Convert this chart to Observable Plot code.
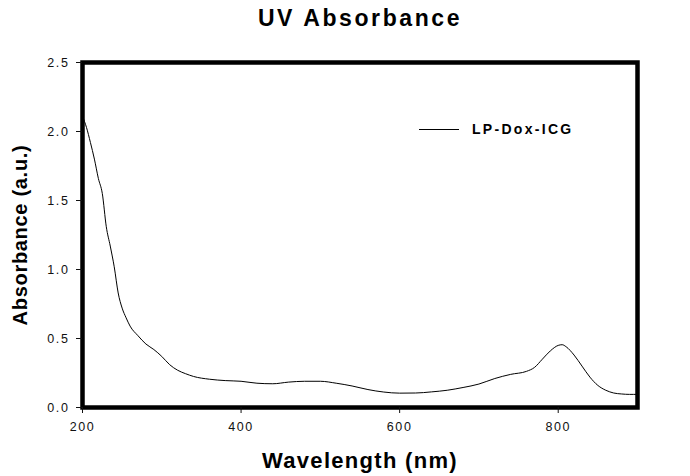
<!DOCTYPE html>
<html>
<head>
<meta charset="utf-8">
<script src="https://cdn.jsdelivr.net/npm/d3@7"></script>
<script src="https://cdn.jsdelivr.net/npm/@observablehq/plot@0.6"></script>
<style>
  html, body { margin: 0; padding: 0; background: #fff; }
  #wrap { position: relative; width: 690px; height: 476px; font-family: "Liberation Sans", Arial, sans-serif; }
  #title { box-sizing: border-box; height: 40px; padding-top: 7px; padding-left: 30px; text-align: center;
           font-weight: bold; font-size: 23px; line-height: 23px; letter-spacing: 2.6px; color: #000; }
  #legend { position: absolute; left: 419px; top: 118px; height: 22px; display: flex; align-items: center; }
  #legend .swatch { width: 40px; height: 0; border-top: 1px solid #000; margin-right: 13px; }
  #legend .lab { font-weight: bold; font-size: 14px; letter-spacing: 2.3px; color: #000; }
</style>
</head>
<body>
<div id="wrap">
  <div id="title">UV Absorbance</div>
  <div id="chart"></div>
  <div id="legend"><div class="swatch"></div><div class="lab">LP-Dox-ICG</div></div>
</div>
<script>
// Data
const wavelength = [200, 205, 210, 215, 220, 225, 230, 235, 240, 245, 250, 255, 260, 270, 280, 290, 300, 310, 320, 330, 340, 360, 380, 400, 420, 440, 460, 480, 500, 520, 540, 560, 580, 600, 620, 640, 660, 680, 700, 720, 740, 760, 770, 780, 790, 800, 805, 810, 820, 830, 840, 850, 860, 870, 880, 890, 900];
const absorbance = [2.11, 2.03, 1.92, 1.80, 1.66, 1.55, 1.31, 1.17, 1.02, 0.83, 0.72, 0.65, 0.59, 0.52, 0.46, 0.42, 0.37, 0.31, 0.27, 0.245, 0.225, 0.205, 0.195, 0.19, 0.176, 0.172, 0.184, 0.19, 0.19, 0.176, 0.156, 0.13, 0.112, 0.104, 0.105, 0.113, 0.125, 0.145, 0.17, 0.21, 0.24, 0.262, 0.29, 0.35, 0.41, 0.45, 0.455, 0.44, 0.38, 0.30, 0.22, 0.16, 0.125, 0.105, 0.098, 0.095, 0.095];
const xTicks = [200, 400, 600, 800];
const yTicks = [0, 0.5, 1.0, 1.5, 2.0, 2.5];
const seriesName = "LP-Dox-ICG";
const xLabel = "Wavelength (nm)";
const yLabel = "Absorbance (a.u.)";

const data = wavelength.map((w, i) => ({wavelength: w, absorbance: absorbance[i], series: seriesName}));

const chart = Plot.plot({
  width: 690,
  height: 436,
  marginTop: 22,
  marginBottom: 69,
  marginLeft: 82,
  marginRight: 53,
  style: {fontFamily: '"Liberation Sans", Arial, sans-serif', fontSize: "12px", color: "#111", background: "#fff"},
  x: {domain: [200, 900], label: null},
  y: {domain: [0, 2.5], label: null},
  marks: [
    Plot.line(data, {x: "wavelength", y: "absorbance", stroke: "#000", strokeWidth: 1, curve: "monotone-x"}),
    Plot.frame({stroke: "#000", strokeWidth: 4.5}),
    Plot.axisX({ticks: xTicks, tickSize: 6, tickPadding: 9, tickFormat: d3.format("d"), label: null, fontSize: 12.5}),
    Plot.axisY({ticks: yTicks, tickSize: 6, tickPadding: 7, tickFormat: d3.format(".1f"), label: null, fontSize: 12.5}),
    Plot.text([xLabel], {frameAnchor: "bottom", text: d => d, dy: 60, textAnchor: "middle", fontSize: 22, fontWeight: "bold", fill: "#000"}),
    Plot.text([yLabel], {frameAnchor: "left", text: d => d, rotate: -90, dx: -62, textAnchor: "middle", fontSize: 20, fontWeight: "bold", fill: "#000"})
  ]
});
chart.querySelectorAll("text").forEach(t => {
  if (t.textContent === xLabel) t.style.letterSpacing = "1.3px";
  else if (t.textContent === yLabel) t.style.letterSpacing = "0.7px";
  else if (/^[0-9.]+$/.test(t.textContent)) t.style.letterSpacing = "1.6px";
});
document.getElementById("chart").appendChild(chart);
</script>
</body>
</html>
